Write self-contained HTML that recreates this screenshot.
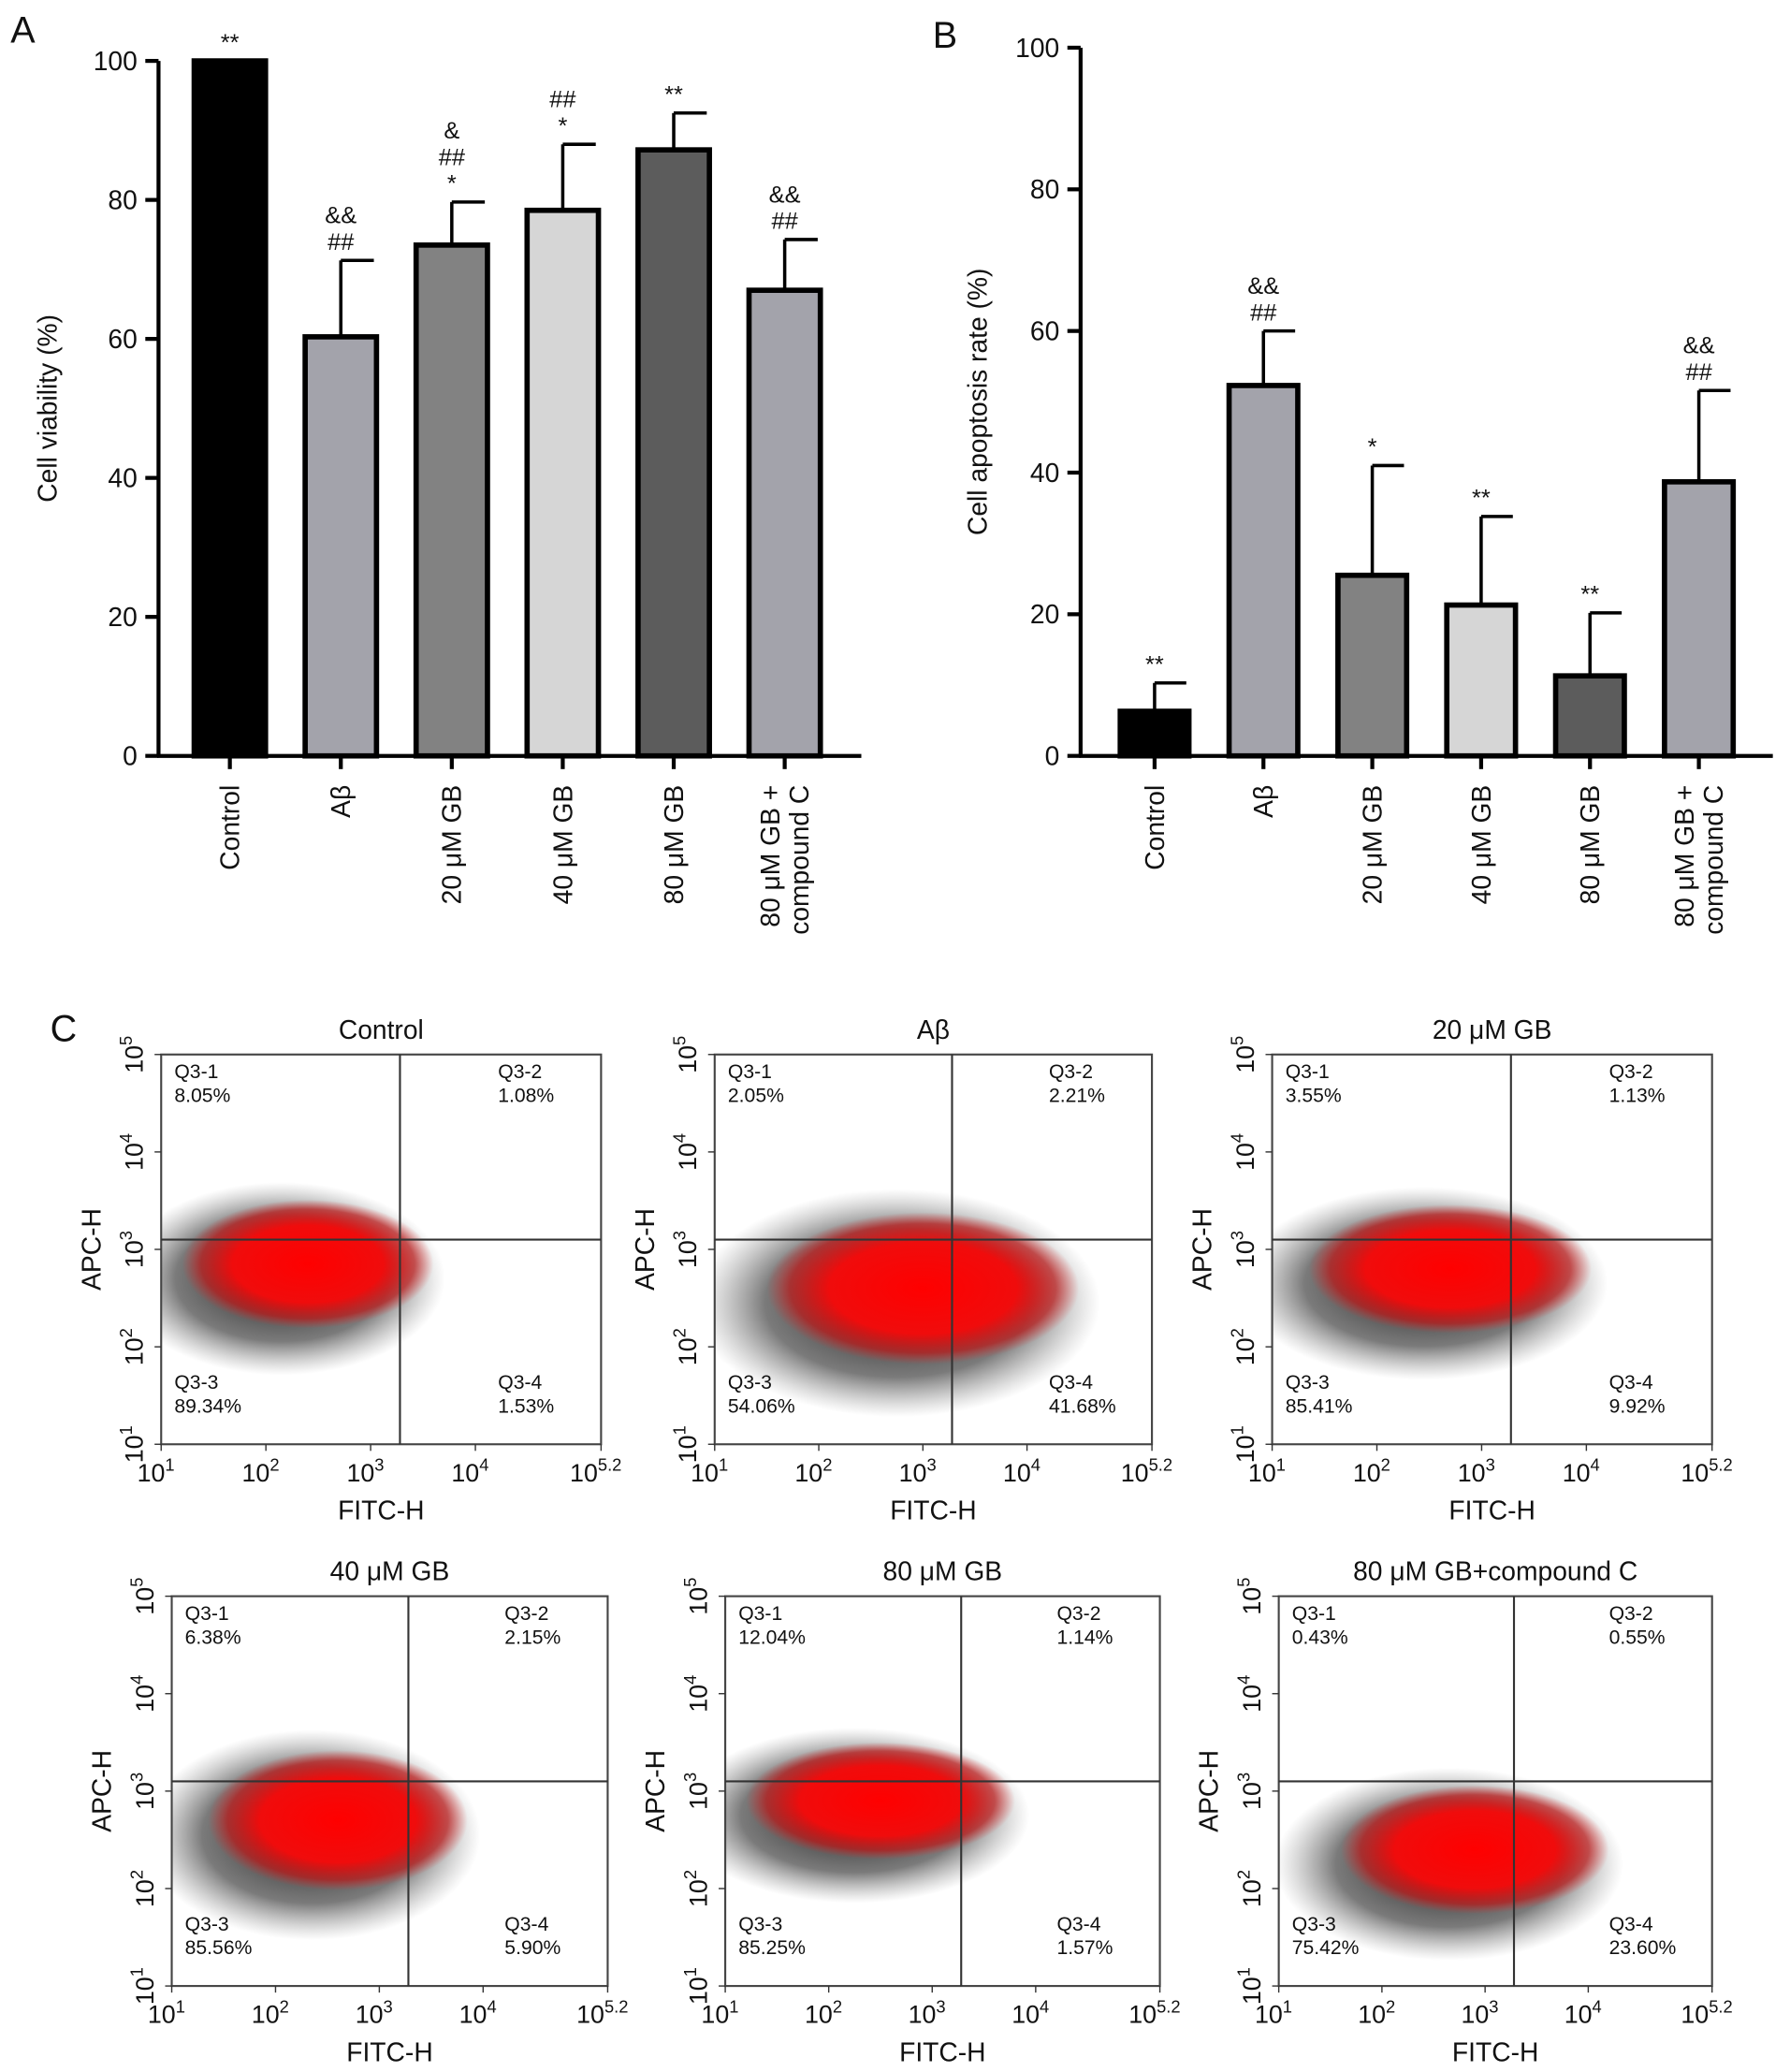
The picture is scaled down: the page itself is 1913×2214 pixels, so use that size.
<!DOCTYPE html>
<html><head><meta charset="utf-8"><style>
html,body{margin:0;padding:0;background:#fff}
svg{display:block}
text{font-family:"Liberation Sans",Arial,sans-serif;fill:#111}
</style></head><body>
<svg id="fig" width="1913" height="2214" viewBox="0 0 1355 1568" xmlns="http://www.w3.org/2000/svg">
<defs>
<radialGradient id="gRed"><stop offset="0" stop-color="#ff0000"/><stop offset="0.6" stop-color="#f00c0c"/><stop offset="0.85" stop-color="#c01818" stop-opacity="0.7"/><stop offset="1" stop-color="#e03030" stop-opacity="0"/></radialGradient>
<radialGradient id="gBlk"><stop offset="0" stop-color="#111" stop-opacity="0.95"/><stop offset="0.65" stop-color="#222" stop-opacity="0.6"/><stop offset="0.85" stop-color="#444" stop-opacity="0.25"/><stop offset="1" stop-color="#666" stop-opacity="0"/></radialGradient>
</defs>
<text x="8" y="32" font-size="28">A</text>
<text x="706" y="36" font-size="28">B</text>
<text x="38" y="788" font-size="28">C</text>
<g id="chartA"></g>
<g id="chartB"></g>
<g id="flow"></g>
</svg>
<script>
const NS="http://www.w3.org/2000/svg";
const categories=["Control","Aβ","20 μM GB","40 μM GB","80 μM GB","80 μM GB +|compound C"];
const colors=["#000000","#a3a3ab","#828282","#d6d6d6","#5c5c5c","#a3a3ab"];
const viability=[100,60.3,73.5,78.5,87.2,67];
const viabilityErr=[0,11,6.2,9.5,5.3,7.3];
const viabilityMarks=[["**"],["##","&&"],["*","##","&"],["*","##"],["**"],["##","&&"]];
const apoptosis=[6.3,52.3,25.5,21.3,11.3,38.7];
const apoptosisErr=[4,7.7,15.5,12.5,8.9,12.9];
const apoptosisMarks=[["**"],["##","&&"],["*"],["**"],["**"],["##","&&"]];
const yTicks=[0,20,40,60,80,100];
const flowTitles=["Control","Aβ","20 μM  GB","40 μM GB","80 μM GB","80 μM GB+compound C"];
const q1=["8.05%","2.05%","3.55%","6.38%","12.04%","0.43%"];
const q2=["1.08%","2.21%","1.13%","2.15%","1.14%","0.55%"];
const q3=["89.34%","54.06%","85.41%","85.56%","85.25%","75.42%"];
const q4=["1.53%","41.68%","9.92%","5.90%","1.57%","23.60%"];
const blobCx=[2.3,2.9,2.6,2.5,2.4,2.8];
const blobCy=[2.85,2.6,2.8,2.7,2.9,2.4];
const blobRx=[1.2,1.5,1.35,1.25,1.3,1.3];
const blobRy=[0.55,0.65,0.55,0.6,0.5,0.55];

function el(tag,attrs,parent,txt){const e=document.createElementNS(NS,tag);for(const k in attrs)e.setAttribute(k,attrs[k]);if(txt!==undefined)e.textContent=txt;parent.appendChild(e);return e;}

function barChart(g,cfg){
  const {ax,x1,y0,yTop,c0,step,bw,vals,errs,marks,ylabel,yl}=cfg;
  const ys=v=>y0-(y0-yTop)*v/100;
  const xs=i=>c0+i*step;
  const a=el("line",{x1:ax,y1:yTop,x2:ax,y2:y0+1,stroke:"#000","stroke-width":3},g);
  
  const b=el("line",{x1:ax-1,y1:y0,x2:x1,y2:y0,stroke:"#000","stroke-width":3},g);
  
  yTicks.forEach(t=>{
    el("line",{x1:ax-10,y1:ys(t),x2:ax,y2:ys(t),stroke:"#000","stroke-width":3},g);
    const tt=el("text",{x:ax-16,y:ys(t)+7,"font-size":20,"text-anchor":"end"},g,t);
    
  });
  const yt=el("text",{x:0,y:0,"font-size":20,"text-anchor":"middle",transform:`translate(${yl},${(y0+yTop)/2}) rotate(-90)`},g,ylabel);
  
  vals.forEach((v,i)=>{
    const cx=xs(i);
    el("line",{x1:cx,y1:y0,x2:cx,y2:y0+10,stroke:"#000","stroke-width":3},g);
    if(errs[i]>0){
      el("line",{x1:cx,y1:ys(v),x2:cx,y2:ys(v+errs[i]),stroke:"#000","stroke-width":2.5},g);
      el("line",{x1:cx,y1:ys(v+errs[i]),x2:cx+bw/2-2,y2:ys(v+errs[i]),stroke:"#000","stroke-width":2.5},g);
    }
    const r=el("rect",{x:cx-bw/2,y:ys(v),width:bw,height:y0-ys(v),fill:colors[i],stroke:"#000","stroke-width":4},g);
    
    const top=ys(v+errs[i]);
    marks[i].forEach((m,k)=>{
      const mt=el("text",{x:cx,y:top-8-k*20,"font-size":18,"text-anchor":"middle"},g,m);
      
    });
    const lines=categories[i].split("|");
    lines.forEach((ln,k)=>{
      const off=(k-(lines.length-1)/2)*22;
      const lt=el("text",{x:0,y:0,"font-size":20,"text-anchor":"end",transform:`translate(${cx+7+off},${y0+22}) rotate(-90)`},g,ln);
      
    });
  });
}
barChart(document.getElementById("chartA"),{ax:120,x1:652,y0:572,yTop:46,c0:174,step:84,bw:54,vals:viability,errs:viabilityErr,marks:viabilityMarks,ylabel:"Cell viability (%)",yl:43});
barChart(document.getElementById("chartB"),{ax:818,x1:1342,y0:572,yTop:36,c0:874,step:82.4,bw:52,vals:apoptosis,errs:apoptosisErr,marks:apoptosisMarks,ylabel:"Cell apoptosis rate (%)",yl:747});

const boxes=[[122,798,455,1093],[541,798,872,1093],[963,798,1296,1093],[130,1208,460,1503],[549,1208,878,1503],[968,1208,1296,1503]];
const flow=document.getElementById("flow");
boxes.forEach((bx,i)=>{
  const [L,T,R,B]=bx;
  const g=el("g",{},flow);
  
  const lx=v=>L+(v-1)/4.2*(R-L);
  const ly=v=>B-(v-1)/4*(B-T);
  const cp=el("clipPath",{id:"cp"+i},g);el("rect",{x:L,y:T,width:R-L,height:B-T},cp);
  const bg=el("g",{"clip-path":`url(#cp${i})`},g);
  el("ellipse",{cx:lx(blobCx[i]-0.15),cy:ly(blobCy[i]-0.15),rx:blobRx[i]*(R-L)/4.2*1.3,ry:blobRy[i]*(B-T)/4*1.8,fill:"url(#gBlk)"},bg);
  const rb=el("ellipse",{cx:lx(blobCx[i]+0.1),cy:ly(blobCy[i]),rx:blobRx[i]*(R-L)/4.2,ry:blobRy[i]*(B-T)/4*1.2,fill:"url(#gRed)"},bg);
  
  el("rect",{x:L,y:T,width:R-L,height:B-T,fill:"none",stroke:"#444","stroke-width":1.5},g);
  el("line",{x1:lx(3.28),y1:T,x2:lx(3.28),y2:B,stroke:"#333","stroke-width":1.5},g);
  el("line",{x1:L,y1:ly(3.1),x2:R,y2:ly(3.1),stroke:"#333","stroke-width":1.5},g);
  const tt=el("text",{x:(L+R)/2,y:T-12,"font-size":20,"text-anchor":"middle"},g,flowTitles[i]);
  
  const qs=[["Q3-1",q1[i],L+10,T+18,"start"],["Q3-2",q2[i],R-78,T+18,"start"],["Q3-3",q3[i],L+10,B-42,"start"],["Q3-4",q4[i],R-78,B-42,"start"]];
  qs.forEach(q=>{
    const a=el("text",{x:q[2],y:q[3],"font-size":15,fill:"#222"},g,q[0]);
    
    const b=el("text",{x:q[2],y:q[3]+18,"font-size":15,fill:"#222"},g,q[1]);
    
  });
  [1,2,3,4,5.2].forEach(e=>{
    el("line",{x1:lx(e),y1:B,x2:lx(e),y2:B+5,stroke:"#333"},g);
    const t=el("text",{x:lx(e)-4,y:B+28,"font-size":19,"text-anchor":"middle"},g);
    el("tspan",{},t,"10");el("tspan",{"font-size":13,dy:-8},t,String(e));
    
  });
  [1,2,3,4,5].forEach(e=>{
    el("line",{x1:L-5,y1:ly(e),x2:L,y2:ly(e),stroke:"#333"},g);
    const t=el("text",{x:0,y:0,"font-size":19,"text-anchor":"middle",transform:`translate(${L-14},${ly(e)}) rotate(-90)`},g);
    el("tspan",{},t,"10");el("tspan",{"font-size":13,dy:-8},t,String(e));
    
  });
  const xt=el("text",{x:(L+R)/2,y:B+57,"font-size":20,"text-anchor":"middle"},g,"FITC-H");
  
  const ytt=el("text",{x:0,y:0,"font-size":20,"text-anchor":"middle",transform:`translate(${L-46},${ly(3)}) rotate(-90)`},g,"APC-H");
  
});
</script>
</body></html>
